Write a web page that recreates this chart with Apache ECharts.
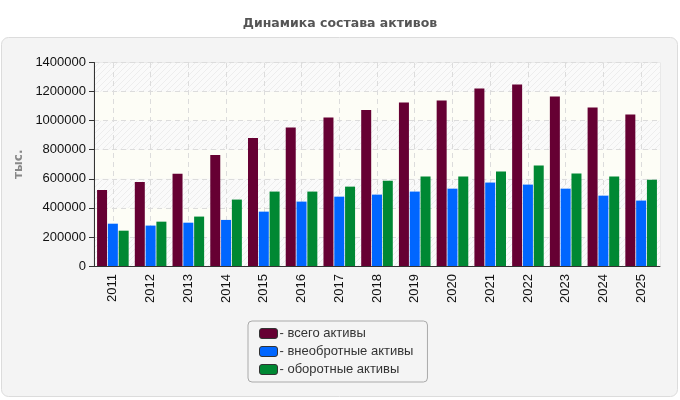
<!DOCTYPE html>
<html>
<head>
<meta charset="utf-8">
<script src="https://cdn.jsdelivr.net/npm/echarts@6/dist/echarts.min.js"></script>
<style>
  html, body { margin: 0; padding: 0; background: #fff; }
  #main { width: 680px; height: 400px; }
</style>
</head>
<body>
<div id="main"></div>
<script>
const years = ['2011', '2012', '2013', '2014', '2015', '2016', '2017', '2018',
    '2019', '2020', '2021', '2022', '2023', '2024', '2025'];
const totalAssets = [523000, 578000, 634000, 764000, 881000, 953000, 1021000, 1074000,
    1125000, 1139000, 1221000, 1249000, 1166000, 1090000, 1042000];
const nonCurrent = [291000, 278000, 298000, 317000, 374000, 443000, 477000, 491000,
    512000, 532000, 574000, 560000, 532000, 484000, 450000];
const current = [243000, 305000, 340000, 457000, 512000, 512000, 546000, 587000,
    615000, 615000, 650000, 691000, 636000, 615000, 594000];
const yTicks = [0, 200000, 400000, 600000, 800000, 1000000, 1200000, 1400000];

// штриховка для чередующихся полос фона
function makeHatch() {
    const c = document.createElement('canvas');
    c.width = 6; c.height = 6;
    const ctx = c.getContext('2d');
    ctx.fillStyle = '#fafafa';
    ctx.fillRect(0, 0, 6, 6);
    ctx.strokeStyle = '#ededed';
    ctx.lineWidth = 1;
    ctx.beginPath();
    ctx.moveTo(0, 6); ctx.lineTo(6, 0);
    ctx.moveTo(-3, 3); ctx.lineTo(3, -3);
    ctx.moveTo(3, 9); ctx.lineTo(9, 3);
    ctx.stroke();
    return c;
}

const chart = echarts.init(document.getElementById('main'));
const labelFont = { fontFamily: 'Liberation Sans', fontSize: 13, color: '#111' };

const option = {
    animation: false,
    backgroundColor: '#fff',
    graphic: [{
        type: 'rect',
        z: -10,
        shape: { x: 1.5, y: 37.5, width: 676, height: 359, r: 7 },
        style: { fill: '#f4f4f4', stroke: '#dcdcdc', lineWidth: 1 }
    }],
    title: {
        text: 'Динамика состава активов',
        left: 'center',
        top: 12,
        textStyle: { fontFamily: 'DejaVu Sans', fontSize: 12.5, fontWeight: 'bold', color: '#555' }
    },
    legend: {
        orient: 'vertical',
        left: 248,
        top: 321,
        padding: [6, 14, 6, 11],
        itemGap: 5,
        itemWidth: 18,
        itemHeight: 10,
        icon: 'roundRect',
        backgroundColor: '#f4f4f4',
        borderColor: '#aaa',
        borderWidth: 1,
        borderRadius: 4,
        itemStyle: { borderColor: '#333', borderWidth: 1 },
        textStyle: { fontFamily: 'Liberation Sans', fontSize: 13, color: '#333', padding: [0, 0, 0, -3] },
        formatter: name => '- ' + name
    },
    grid: {
        left: 94, right: 20, top: 62.5, height: 203.5,
        show: true, borderColor: '#dcdcdc', borderWidth: 1, backgroundColor: 'transparent'
    },
    xAxis: {
        type: 'category',
        data: years,
        axisLine: { lineStyle: { color: '#333' } },
        axisTick: { alignWithLabel: true, length: 5, lineStyle: { color: '#333' } },
        axisLabel: Object.assign({ rotate: 90, margin: 8 }, labelFont),
        splitLine: { show: false }
    },
    yAxis: {
        type: 'value',
        min: yTicks[0],
        max: yTicks[yTicks.length - 1],
        interval: 200000,
        name: 'тыс.',
        nameLocation: 'middle',
        nameGap: 66,
        nameTextStyle: { fontFamily: 'DejaVu Sans', fontSize: 12, fontWeight: 'bold', color: '#888' },
        axisLine: { show: true, lineStyle: { color: '#333' } },
        axisTick: { show: true, length: 5, lineStyle: { color: '#333' } },
        axisLabel: Object.assign({ margin: 8, formatter: v => String(v) }, labelFont),
        splitLine: { lineStyle: { color: '#dcdcdc', type: [5, 4] } },
        splitArea: {
            show: true,
            areaStyle: { color: [{ image: makeHatch(), repeat: 'repeat' }, '#fdfdf6'] }
        }
    },
    series: [
        {
            name: 'всего активы', type: 'bar', data: totalAssets,
            barWidth: 10, barGap: '8%',
            itemStyle: { color: '#660033' }
        },
        {
            name: 'внеобротные активы', type: 'bar', data: nonCurrent,
            barWidth: 10, barGap: '8%',
            itemStyle: { color: '#0066ff' }
        },
        {
            name: 'оборотные активы', type: 'bar', data: current,
            barWidth: 10, barGap: '8%',
            itemStyle: { color: '#008833' }
        },
        {
            // вертикальные пунктирные линии по центрам категорий
            type: 'line', data: [], z: 1, silent: true,
            markLine: {
                z: 1, silent: true, symbol: 'none',
                label: { show: false },
                lineStyle: { color: '#dcdcdc', type: [5, 4], width: 1 },
                data: years.map(y => ({ xAxis: y }))
            }
        }
    ]
};

chart.setOption(option);
</script>
</body>
</html>
